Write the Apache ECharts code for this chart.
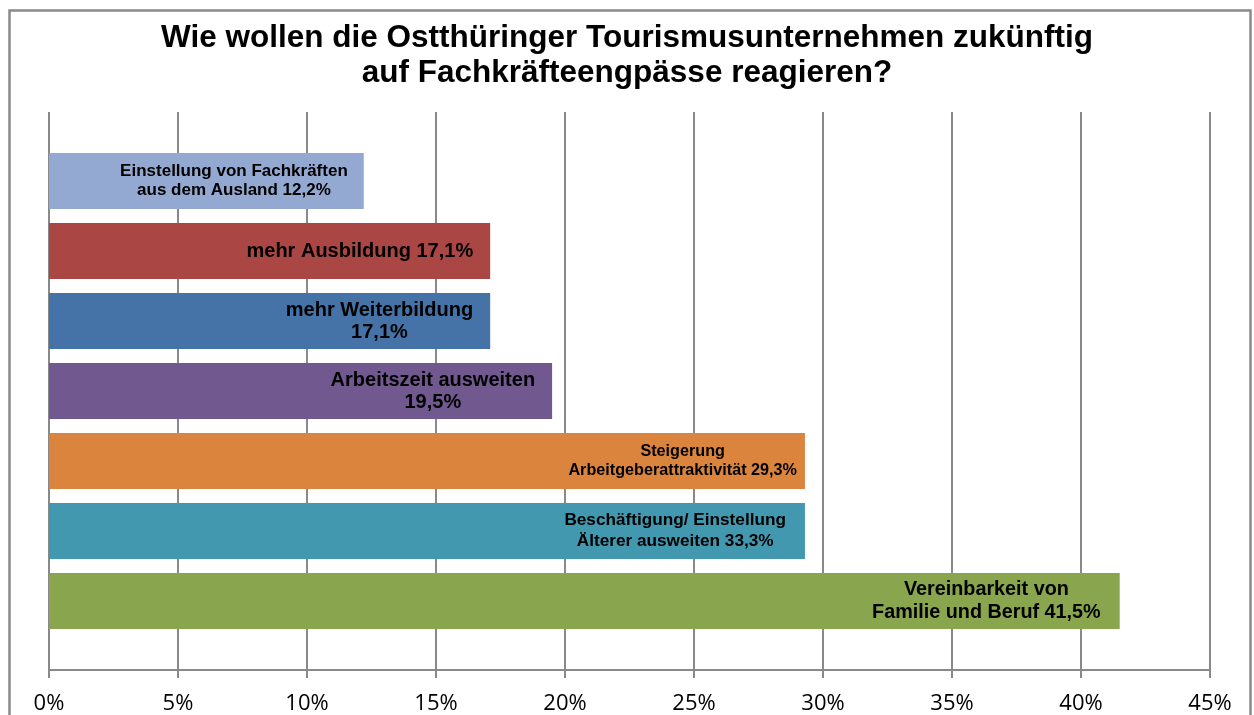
<!DOCTYPE html>
<html>
<head>
<meta charset="utf-8">
<script src="https://cdn.jsdelivr.net/npm/echarts@6/dist/echarts.min.js"></script>
<style>
html,body{margin:0;padding:0;background:#fff;}
#chart{width:1254px;height:715px;}
</style>
</head>
<body>
<div id="chart"></div>
<script>
// ---- data ----
var titleText = 'Wie wollen die Ostthüringer Tourismusunternehmen zukünftig\nauf Fachkräfteengpässe reagieren?';
var categories = [
  'Einstellung von Fachkräften aus dem Ausland',
  'mehr Ausbildung',
  'mehr Weiterbildung',
  'Arbeitszeit ausweiten',
  'Steigerung Arbeitgeberattraktivität',
  'Beschäftigung/ Einstellung Älterer ausweiten',
  'Vereinbarkeit von Familie und Beruf'
];
var barValues = [12.2, 17.1, 17.1, 19.5, 29.3, 29.3, 41.5];
var labelTexts = [
  'Einstellung von Fachkräften\naus dem Ausland 12,2%',
  'mehr Ausbildung 17,1%',
  'mehr Weiterbildung\n17,1%',
  'Arbeitszeit ausweiten\n19,5%',
  'Steigerung\nArbeitgeberattraktivität 29,3%',
  'Beschäftigung/ Einstellung\nÄlterer ausweiten 33,3%',
  'Vereinbarkeit von\nFamilie und Beruf 41,5%'
];
var barColors = ['#94A9D2', '#AA4643', '#4572A7', '#71588F', '#DB843D', '#4198AF', '#89A54E'];
var xTicks = [0, 5, 10, 15, 20, 25, 30, 35, 40, 45];

// ---- styling (not data) ----
var labelSizes = [17, 20, 20, 20, 16.2, 17.2, 19.8];
var labelLineHeights = [19, 22, 22, 22, 19, 21, 23];
var labelDistances = [16, 17, 17, 17, 8, 19, 19];

var chart = echarts.init(document.getElementById('chart'), null, {renderer: 'canvas'});

var seriesData = barValues.map(function (v, i) {
  var txt = labelTexts[i].split('\n').map(function (l) { return '{c|' + l + '}'; }).join('\n');
  return {
    value: v,
    itemStyle: {color: barColors[i]},
    label: {
      show: true,
      position: 'insideRight',
      distance: labelDistances[i],
      formatter: txt,
      rich: {
        c: {
          align: 'center',
          fontFamily: 'Liberation Sans',
          fontWeight: 'bold',
          fontSize: labelSizes[i],
          lineHeight: labelLineHeights[i],
          color: '#000'
        }
      }
    }
  };
});

var option = {
  backgroundColor: '#fff',
  animation: false,
  title: {
    text: titleText,
    left: 'center',
    top: 16,
    textStyle: {
      fontFamily: 'Liberation Sans',
      fontWeight: 'bold',
      fontSize: 31.5,
      lineHeight: 35,
      color: '#000'
    }
  },
  graphic: [{
    type: 'rect',
    shape: {x: 9.5, y: 10.5, width: 1241, height: 720},
    style: {fill: 'none', stroke: '#8a8a8a', lineWidth: 2.5},
    silent: true,
    z: -10
  }],
  grid: [
    {left: 49, right: 44, top: 112, bottom: 45},
    {left: 49, right: 44, top: 146, bottom: 79}
  ],
  xAxis: [{
    gridIndex: 0,
    type: 'value',
    min: 0,
    max: 45,
    interval: 5,
    axisLine: {show: true, lineStyle: {color: '#898989', width: 2}},
    axisTick: {show: true, inside: false, length: 8, lineStyle: {color: '#898989', width: 2}},
    splitLine: {show: true, showMinLine: true, showMaxLine: true, lineStyle: {color: '#898989', width: 2}},
    axisLabel: {
      margin: 23,
      fontFamily: 'Open Sans',
      fontSize: 22,
      color: '#000',
      formatter: function (v) { return xTicks.indexOf(v) >= 0 ? v + '%' : ''; }
    }
  }, {
    gridIndex: 1,
    type: 'value',
    min: 0,
    max: 45,
    interval: 5,
    show: false
  }],
  yAxis: [{
    gridIndex: 0,
    type: 'category',
    data: categories,
    show: false
  }, {
    gridIndex: 1,
    type: 'category',
    data: categories,
    inverse: true,
    show: false
  }],
  series: [{
    type: 'bar',
    xAxisIndex: 1,
    yAxisIndex: 1,
    barWidth: 56,
    data: seriesData
  }]
};
chart.setOption(option);
</script>
</body>
</html>
